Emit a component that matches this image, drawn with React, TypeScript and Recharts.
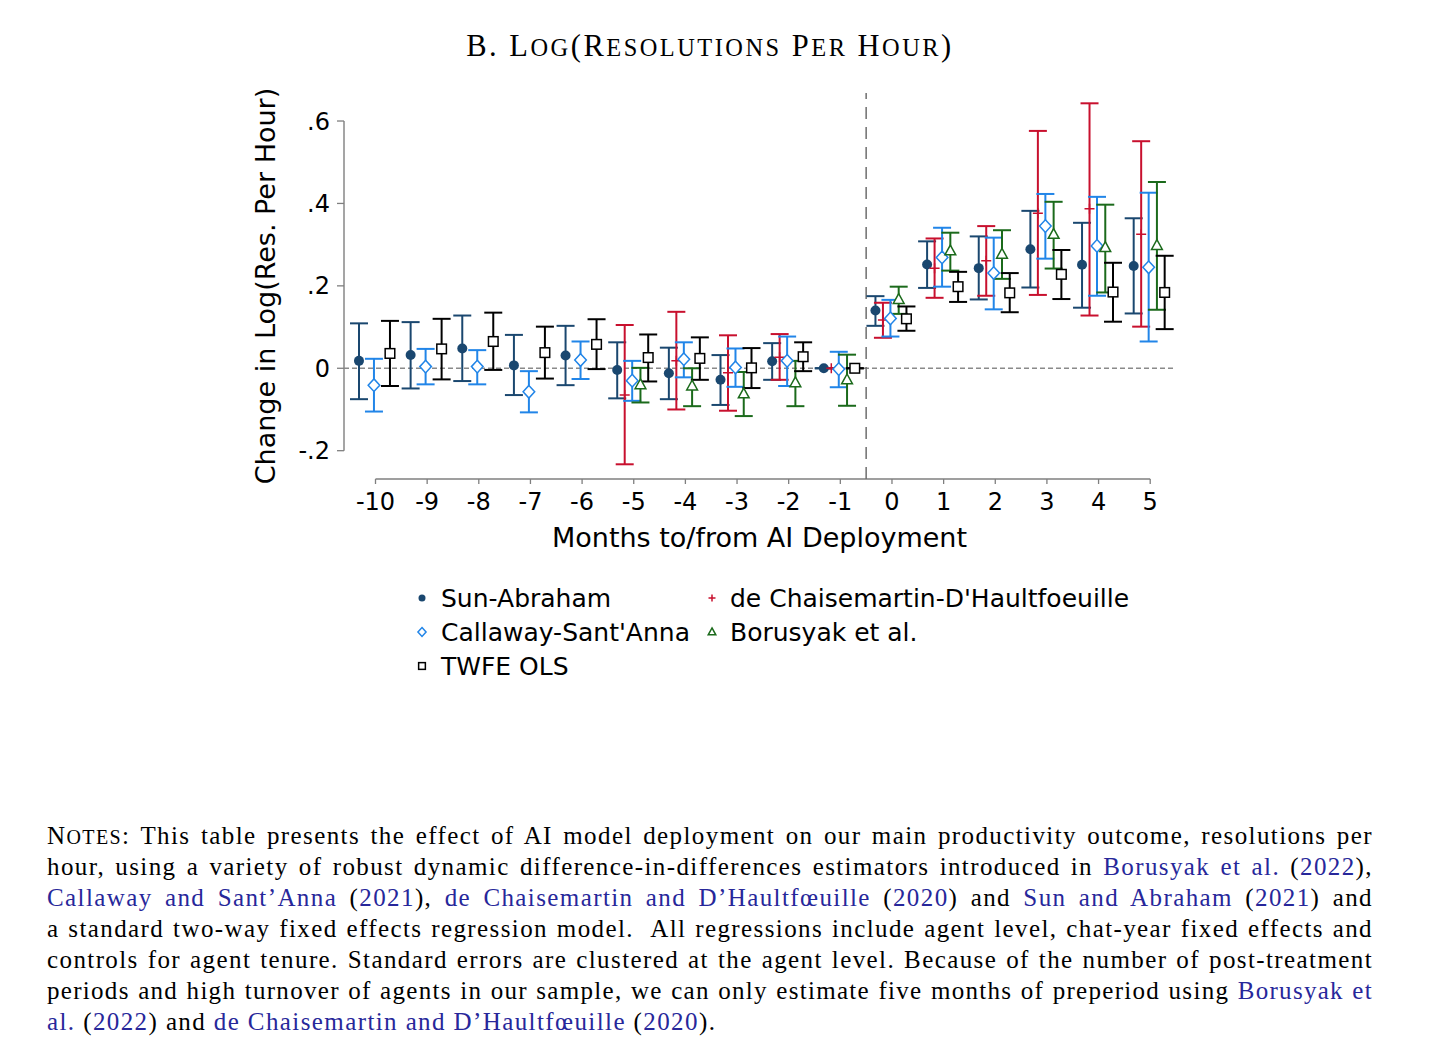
import React from 'react';
import { ErrorBar, Legend, ReferenceLine, Scatter, ScatterChart, XAxis, YAxis } from 'recharts';

// months relative to AI deployment
const months = [-10, -9, -8, -7, -6, -5, -4, -3, -2, -1, 0, 1, 2, 3, 4, 5];
const shortMonths = [-5, -4, -3, -2, -1, 0, 1, 2, 3, 4, 5];

// Sun-Abraham
const saEst = [0.018, 0.032, 0.048, 0.007, 0.031, -0.004, -0.012, -0.028, 0.017, 0, 0.14, 0.252, 0.243, 0.289, 0.251, 0.248];
const saLo = [-0.075, -0.049, -0.031, -0.065, -0.041, -0.073, -0.075, -0.089, -0.028, 0, 0.103, 0.195, 0.167, 0.196, 0.147, 0.133];
const saHi = [0.109, 0.112, 0.128, 0.081, 0.103, 0.063, 0.05, 0.032, 0.061, 0, 0.175, 0.308, 0.32, 0.382, 0.353, 0.364];

// Callaway-Sant'Anna
const csEst = [-0.041, 0.004, 0.004, -0.057, 0.02, -0.03, 0.022, 0.002, 0.018, -0.002, 0.121, 0.269, 0.231, 0.345, 0.297, 0.245];
const csLo = [-0.105, -0.039, -0.039, -0.107, -0.026, -0.079, -0.022, -0.045, -0.043, -0.046, 0.077, 0.198, 0.143, 0.266, 0.176, 0.065];
const csHi = [0.023, 0.047, 0.044, -0.007, 0.065, 0.018, 0.063, 0.048, 0.077, 0.04, 0.166, 0.341, 0.317, 0.423, 0.416, 0.426];

// TWFE OLS
const twEst = [0.036, 0.047, 0.065, 0.038, 0.058, 0.026, 0.024, 0.001, 0.028, 0, 0.12, 0.198, 0.183, 0.228, 0.185, 0.184];
const twLo = [-0.043, -0.027, -0.004, -0.025, -0.002, -0.032, -0.028, -0.048, -0.007, 0, 0.091, 0.161, 0.136, 0.168, 0.113, 0.095];
const twHi = [0.115, 0.12, 0.135, 0.101, 0.119, 0.082, 0.075, 0.049, 0.063, 0, 0.15, 0.234, 0.231, 0.287, 0.256, 0.273];

// de Chaisemartin-D'Haultfoeuille
const dcEst = [-0.065, 0.018, -0.011, 0.027, 0, 0.117, 0.243, 0.261, 0.376, 0.387, 0.325];
const dcLo = [-0.233, -0.1, -0.103, -0.028, 0, 0.074, 0.171, 0.176, 0.178, 0.128, 0.101];
const dcHi = [0.105, 0.137, 0.08, 0.083, 0, 0.159, 0.315, 0.345, 0.576, 0.643, 0.551];

// Borusyak et al.
const bjEst = [-0.04, -0.043, -0.062, -0.035, -0.028, 0.167, 0.285, 0.277, 0.325, 0.293, 0.298];
const bjLo = [-0.083, -0.092, -0.116, -0.092, -0.091, 0.132, 0.237, 0.217, 0.242, 0.184, 0.142];
const bjHi = [0.001, 0.0, -0.009, 0.018, 0.033, 0.198, 0.329, 0.335, 0.404, 0.397, 0.452];

const xTicks = months;
const yTicks = [-0.2, 0, 0.2, 0.4, 0.6];
const xDomain = [-10.61, 5.48];
const yDomain = [-0.2687, 0.668];

const FONT = '"DejaVu Sans", sans-serif';
const SERIF = '"Liberation Serif", "DejaVu Serif", serif';
const AXIS_GREY = '#7f7f7f';

const rows = (ms: number[], est: number[], lo: number[], hi: number[], shift: number) =>
  ms.map((m, i) => ({ x: m + shift, y: est[i], err: [est[i] - lo[i], hi[i] - est[i]] }));

type Kind = 'dot' | 'plus' | 'diamond' | 'triangle' | 'square';

function Marker({ kind, color, cx, cy, s = 1 }: { kind: Kind; color: string; cx: number; cy: number; s?: number }) {
  if (kind === 'dot') return <circle cx={cx} cy={cy} r={5 * s} fill={color} />;
  if (kind === 'plus')
    return (
      <path
        d={`M${cx - 5 * s},${cy}H${cx + 5 * s}M${cx},${cy - 5 * s}V${cy + 5 * s}`}
        stroke={color}
        strokeWidth={1.5}
        fill="none"
      />
    );
  if (kind === 'diamond')
    return (
      <path
        d={`M${cx},${cy - 6.3 * s}L${cx + 5.8 * s},${cy}L${cx},${cy + 6.3 * s}L${cx - 5.8 * s},${cy}Z`}
        fill="#fff"
        stroke={color}
        strokeWidth={1.5}
      />
    );
  if (kind === 'triangle')
    return (
      <path
        d={`M${cx},${cy - 5.8 * s}L${cx + 5.4 * s},${cy + 4 * s}L${cx - 5.4 * s},${cy + 4 * s}Z`}
        fill="#fff"
        stroke={color}
        strokeWidth={1.5}
      />
    );
  return (
    <rect x={cx - 4.8 * s} y={cy - 4.8 * s} width={9.6 * s} height={9.6 * s} fill="#fff" stroke={color} strokeWidth={1.5} />
  );
}

const series = [
  { key: 'sa', name: 'Sun-Abraham', color: '#1a476f', kind: 'dot' as Kind, data: rows(months, saEst, saLo, saHi, -0.32) },
  { key: 'dc', name: "de Chaisemartin-D'Haultfoeuille", color: '#c8102e', kind: 'plus' as Kind, data: rows(shortMonths, dcEst, dcLo, dcHi, -0.175) },
  { key: 'cs', name: "Callaway-Sant'Anna", color: '#2185e8', kind: 'diamond' as Kind, data: rows(months, csEst, csLo, csHi, -0.03) },
  { key: 'bj', name: 'Borusyak et al.', color: '#1b6a1b', kind: 'triangle' as Kind, data: rows(shortMonths, bjEst, bjLo, bjHi, 0.13) },
  { key: 'tw', name: 'TWFE OLS', color: '#000000', kind: 'square' as Kind, data: rows(months, twEst, twLo, twHi, 0.28) },
];

const fmtY = (v: number) => {
  if (v === 0) return '0';
  const s = String(Math.abs(v)).replace(/^0/, '');
  return v < 0 ? '-' + s : s;
};

// small caps with lowercase letters drawn as 0.8em capitals
function SmallCaps({ text }: { text: string }) {
  const parts: React.ReactNode[] = [];
  let buf = '';
  let low = false;
  const flush = (k: number) => {
    if (!buf) return;
    parts.push(
      low ? (
        <span key={k} style={{ fontSize: '0.8em', lineHeight: 1 }}>
          {buf.toUpperCase()}
        </span>
      ) : (
        <span key={k}>{buf}</span>
      ),
    );
    buf = '';
  };
  [...text].forEach((ch, i) => {
    const isLow = ch !== ch.toUpperCase();
    if (isLow !== low) {
      flush(i);
      low = isLow;
    }
    buf += ch;
  });
  flush(text.length);
  return <>{parts}</>;
}

function LegendBox() {
  return (
    <div
      style={{
        display: 'grid',
        gridTemplateColumns: '290px auto',
        gridAutoRows: '34px',
        fontFamily: FONT,
        fontSize: 25,
        color: '#000',
      }}
    >
      {series.map((s) => (
        <div key={s.key} style={{ display: 'flex', alignItems: 'center', whiteSpace: 'nowrap' }}>
          <svg width={24} height={34} style={{ marginRight: s.key === 'sa' || s.key === 'cs' || s.key === 'tw' ? 7 : 6 }}>
            <Marker kind={s.kind} color={s.color} cx={12} cy={17} s={0.7} />
          </svg>
          <span>{s.name}</span>
        </div>
      ))}
    </div>
  );
}

const link = { color: '#27279a' };

function Notes() {
  const line: React.CSSProperties = { height: 31, textAlign: 'justify', textAlignLast: 'justify', whiteSpace: 'nowrap' };
  return (
    <div
      style={{
        position: 'absolute',
        left: 47,
        top: 820,
        width: 1326,
        fontFamily: SERIF,
        fontSize: 25,
        lineHeight: '31px',
        color: '#000',
        letterSpacing: 1.4,
      }}
    >
      <div style={line}>
        <SmallCaps text="Notes:" /> This table presents the effect of AI model deployment on our main productivity outcome, resolutions per
      </div>
      <div style={line}>
        hour, using a variety of robust dynamic difference-in-differences estimators introduced in <span style={link}>Borusyak et al.</span> (<span style={link}>2022</span>),
      </div>
      <div style={line}>
        <span style={link}>Callaway and Sant’Anna</span> (<span style={link}>2021</span>), <span style={link}>de Chaisemartin and D’Haultfœuille</span> (<span style={link}>2020</span>) and <span style={link}>Sun and Abraham</span> (<span style={link}>2021</span>) and
      </div>
      <div style={line}>
        a standard two-way fixed effects regression model.&nbsp; All regressions include agent level, chat-year fixed effects and
      </div>
      <div style={line}>
        controls for agent tenure. Standard errors are clustered at the agent level. Because of the number of post-treatment
      </div>
      <div style={{ ...line, letterSpacing: 1.3 }}>
        periods and high turnover of agents in our sample, we can only estimate five months of preperiod using <span style={link}>Borusyak et</span>
      </div>
      <div style={{ height: 31, whiteSpace: 'nowrap' }}>
        <span style={link}>al.</span> (<span style={link}>2022</span>) and <span style={link}>de Chaisemartin and D’Haultfœuille</span> (<span style={link}>2020</span>).
      </div>
    </div>
  );
}

export default function App() {
  return (
    <div style={{ position: 'absolute', left: 0, top: 0, width: 1456, height: 1056, background: '#fff' }}>
      <div
        style={{
          position: 'absolute',
          left: 0,
          top: 31,
          width: 1420,
          textAlign: 'center',
          fontFamily: SERIF,
          fontSize: 30.5,
          lineHeight: '30px',
          letterSpacing: 2.5,
          color: '#000',
        }}
      >
        <SmallCaps text="B. Log(Resolutions Per Hour)" />
      </div>
      <div style={{ position: 'absolute', left: 0, top: 0 }}>
        <ScatterChart width={1456} height={700} margin={{ top: 93, right: 281, bottom: 141, left: 244 }}>
          <XAxis
            type="number"
            dataKey="x"
            domain={xDomain}
            ticks={xTicks}
            interval={0}
            allowDataOverflow
            axisLine={false}
            tickLine={{ stroke: AXIS_GREY, strokeWidth: 1.3 }}
            tickSize={5}
            tickMargin={9}
            tick={{ fontSize: 24, fill: '#000', fontFamily: FONT }}
            height={80}
            label={{ value: 'Months to/from AI Deployment', position: 'insideBottom', offset: 12, fontSize: 27, fill: '#000', fontFamily: FONT }}
          />
          <YAxis
            type="number"
            dataKey="y"
            domain={yDomain}
            ticks={yTicks}
            interval={0}
            allowDataOverflow
            axisLine={false}
            tickLine={{ stroke: AXIS_GREY, strokeWidth: 1.3 }}
            tickSize={7}
            tickMargin={7}
            tickFormatter={fmtY}
            tick={{ fontSize: 24, fill: '#000', fontFamily: FONT }}
            width={100}
            label={{
              value: 'Change in Log(Res. Per Hour)',
              angle: -90,
              position: 'insideLeft',
              offset: 21,
              style: { textAnchor: 'middle' },
              fontSize: 27,
              fill: '#000',
              fontFamily: FONT,
            }}
          />
          <ReferenceLine
            segment={[{ x: xDomain[0], y: yTicks[0] }, { x: xDomain[0], y: yTicks[yTicks.length - 1] }]}
            stroke={AXIS_GREY}
            strokeWidth={1.4}
            ifOverflow="visible"
          />
          <ReferenceLine
            segment={[{ x: xTicks[0], y: yDomain[0] }, { x: xTicks[xTicks.length - 1], y: yDomain[0] }]}
            stroke={AXIS_GREY}
            strokeWidth={1.4}
            ifOverflow="visible"
          />
          <ReferenceLine y={0} stroke="#8a8a8a" strokeWidth={1.3} strokeDasharray="5 3" />
          <ReferenceLine x={-0.5} stroke="#6e6e6e" strokeWidth={1.5} strokeDasharray="12 8" />
          {series.map((s) => (
            <Scatter
              key={s.key}
              name={s.name}
              data={s.data}
              fill={s.color}
              isAnimationActive={false}
              shape={(p: any) => <Marker kind={s.kind} color={s.color} cx={p.cx} cy={p.cy} />}
            >
              <ErrorBar dataKey="err" direction="y" width={9} stroke={s.color} strokeWidth={2} isAnimationActive={false} />
            </Scatter>
          ))}
          <Legend
            layout="horizontal"
            verticalAlign="middle"
            align="center"
            wrapperStyle={{ position: 'absolute', left: 410, top: 581, width: 760, height: 102 }}
            content={() => <LegendBox />}
          />
        </ScatterChart>
      </div>
      <Notes />
    </div>
  );
}
